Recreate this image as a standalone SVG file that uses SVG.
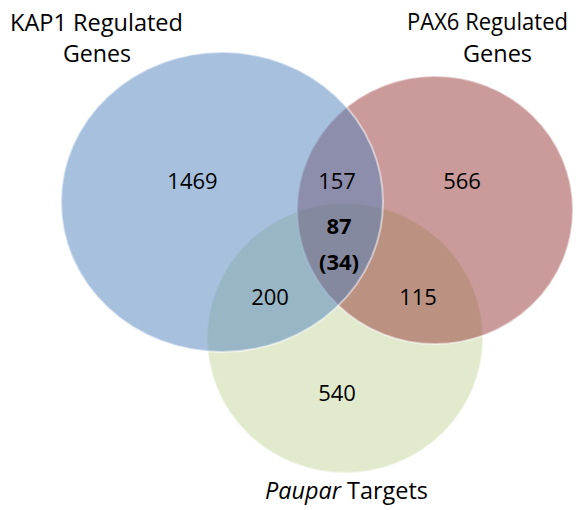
<svg xmlns="http://www.w3.org/2000/svg" width="582" height="510" viewBox="0 0 582 510">
<style>
.lbl{font-family:"Open Sans","Liberation Sans",sans-serif;font-size:23px;fill:#000;text-anchor:middle}
.num{font-family:"Open Sans","Liberation Sans",sans-serif;font-size:22px;fill:#000;text-anchor:middle}
.b{font-weight:bold}
.set{stroke:#ffffff;stroke-opacity:0.5;stroke-width:2}
</style>
<rect width="582" height="510" fill="#ffffff"/>
<g id="paupar"><ellipse class="set" cx="345" cy="338" rx="138" ry="135" fill="#9BBB59" fill-opacity="0.3"/></g>
<g id="pax6"><ellipse class="set" cx="435" cy="210" rx="138" ry="134" fill="#953735" fill-opacity="0.5"/></g>
<g id="kap1"><ellipse class="set" cx="222" cy="202" rx="161" ry="150" fill="#4F81BD" fill-opacity="0.5"/></g>
<g id="connectors"></g>
<g id="labels">
<text class="lbl" x="96.5" y="31" textLength="173" lengthAdjust="spacingAndGlyphs">KAP1 Regulated</text>
<text class="lbl" x="97" y="62" textLength="68" lengthAdjust="spacingAndGlyphs">Genes</text>
<text class="lbl" x="487.5" y="30" textLength="161" lengthAdjust="spacingAndGlyphs">PAX6 Regulated</text>
<text class="lbl" x="497.5" y="62" textLength="69" lengthAdjust="spacingAndGlyphs">Genes</text>
<text class="lbl" x="346.5" y="499" textLength="163" lengthAdjust="spacingAndGlyphs"><tspan font-style="italic">Paupar</tspan> Targets</text>
</g>
<g id="counts">
<text class="num" x="192.5" y="189">1469</text>
<text class="num" x="337" y="189">157</text>
<text class="num" x="462" y="189">566</text>
<text class="num b" x="339" y="234">87</text>
<text class="num b" x="339" y="270">(34)</text>
<text class="num" x="270" y="305">200</text>
<text class="num" x="418" y="305">115</text>
<text class="num" x="337" y="401">540</text>
</g>
</svg>
